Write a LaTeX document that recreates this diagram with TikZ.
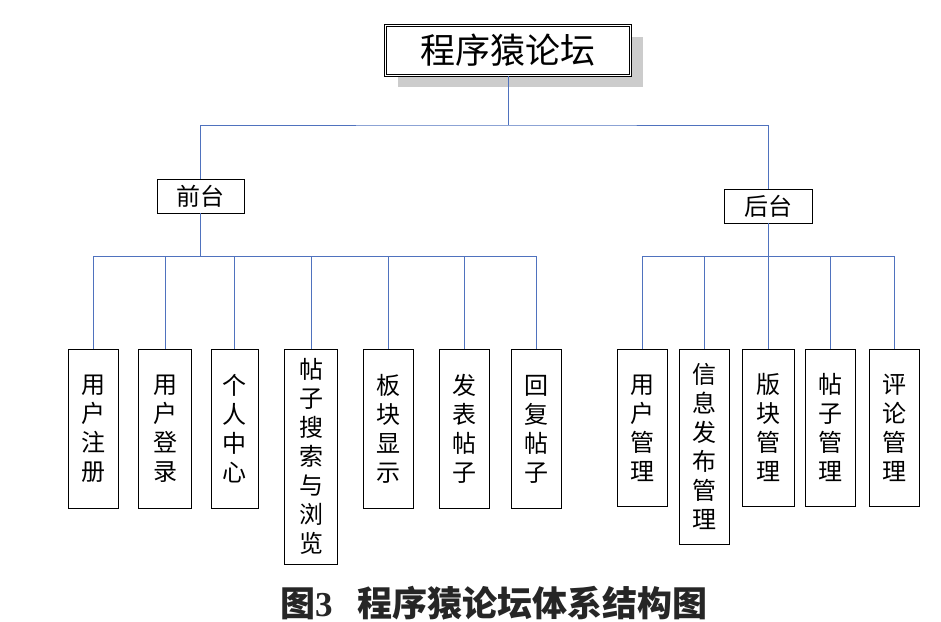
\documentclass[tikz,border=0pt]{standalone}
\usepackage{fontspec}
\newfontfamily\cjk{Noto Sans CJK SC}
\newfontfamily\latin{Liberation Serif}
\usetikzlibrary{shadows}
\definecolor{linkblue}{RGB}{79,114,190}

\begin{document}
\begin{tikzpicture}[x=1pt,y=-1pt,
	box/.style={draw,line width=0.8pt,inner sep=0pt,font=\cjk\fontsize{24}{29}\selectfont},
	leaf/.style={box,anchor=north,minimum width=50pt,align=center},
	link/.style={draw=linkblue,line width=0.8pt}]

	\useasboundingbox (0,0) rectangle (941,621);

	% Draw the root with its shadow
	\node[draw,line width=0.7pt,double,double distance=1.6pt,fill=white,
		minimum width=245pt,minimum height=50pt,inner sep=0pt,
		font=\cjk\fontsize{35}{40}\selectfont,
		drop shadow={shadow xshift=12pt,shadow yshift=-11pt,fill=black!20,opacity=1}]
		(forum) at (508,50.5) {程序猿论坛};

	% Draw the two halves
	\node[box,minimum width=87pt,minimum height=34pt] (front) at (200.5,196) {前台};
	\node[box,minimum width=88pt,minimum height=34pt] (back) at (768,206) {后台};

	% Draw the front leaves
	\node[leaf,minimum height=159pt] (reg) at (93,349) {用\\户\\注\\册};
	\node[leaf,minimum width=53pt,minimum height=159pt] (login) at (165,349) {用\\户\\登\\录};
	\node[leaf,minimum width=47pt,minimum height=159pt] (home) at (234.5,349) {个\\人\\中\\心};
	\node[leaf,minimum width=53pt,minimum height=215pt] (search) at (311,349) {帖\\子\\搜\\索\\与\\浏\\览};
	\node[leaf,minimum height=159pt] (board) at (388,349) {板\\块\\显\\示};
	\node[leaf,minimum height=159pt] (post) at (464,349) {发\\表\\帖\\子};
	\node[leaf,minimum height=159pt] (reply) at (536,349) {回\\复\\帖\\子};

	% Draw the back leaves
	\node[leaf,minimum height=157pt] (user) at (642,349) {用\\户\\管\\理};
	\node[leaf,minimum height=195pt] (info) at (704,349) {信\\息\\发\\布\\管\\理};
	\node[leaf,minimum width=52pt,minimum height=157pt] (section) at (768,349) {版\\块\\管\\理};
	\node[leaf,minimum height=157pt] (topic) at (830.5,349) {帖\\子\\管\\理};
	\node[leaf,minimum height=157pt] (comment) at (894,349) {评\\论\\管\\理};

	% Draw the links from the root
	\coordinate (rootbus) at (508,125);
	\draw[link] (forum.south) -- (rootbus);
	\draw[link] (front.north) |- (rootbus) -| (back.north);

	% Draw the links of the front
	\coordinate (frontbus) at (200.5,256);
	\draw[link] (front.south) -- (frontbus);
	\foreach \n in {reg,login,home,search,board,post,reply}
		\draw[link] (\n.north) |- (frontbus);

	% Draw the links of the back
	\coordinate (backbus) at (768,256);
	\draw[link] (back.south) -- (backbus);
	\foreach \n in {user,info,section,topic,comment}
		\draw[link] (\n.north) |- (backbus);

	% Caption
	\node[font=\cjk\bfseries\fontsize{35}{40}\selectfont,text=black!85] (caption) at (493.5,603) {图{\latin\bfseries 3}\hspace{0.7em}程序猿论坛体系结构图};

\end{tikzpicture}
\end{document}
